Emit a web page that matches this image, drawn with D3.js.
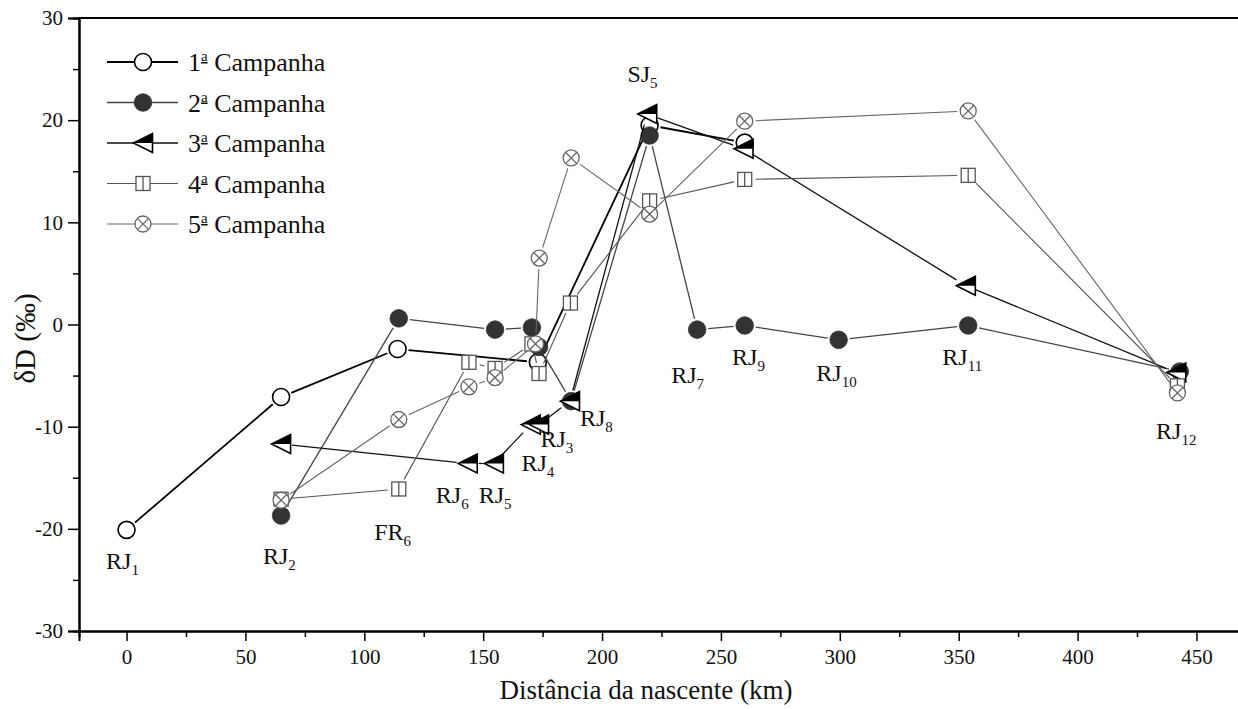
<!DOCTYPE html>
<html>
<head>
<meta charset="utf-8">
<script src="https://cdn.jsdelivr.net/npm/d3@7"></script>
<style>
  body { margin: 0; background: #fff; }
  text { font-family: "Liberation Serif", "Times New Roman", serif; fill: #111; }
</style>
</head>
<body>
<div class="canvas"></div>
<script>
// data (distance km, deltaD permil)
const dist1 = [0, 65, 114, 173, 220, 260];
const camp1 = [-20.1, -7.1, -2.4, -3.7, 19.5, 17.8];

const dist2 = [65, 114.5, 155, 170.5, 173.5, 187, 220, 240, 260, 299.5, 354, 443];
const camp2 = [-18.7, 0.6, -0.5, -0.3, -2.2, -7.5, 18.5, -0.5, -0.1, -1.5, -0.1, -4.6];

const dist3 = [65, 143.5, 154.5, 170, 173.5, 186.5, 219, 259.5, 353, 441.5];
const camp3 = [-11.7, -13.6, -13.6, -9.8, -9.8, -7.5, 20.6, 17.2, 3.8, -4.7];

const dist4 = [65, 114.5, 144, 155, 170.5, 173.5, 186.7, 220, 260, 354, 442];
const camp4 = [-17.1, -16.1, -3.7, -4.3, -1.9, -4.8, 2.1, 12.1, 14.2, 14.6, -6.0];

const dist5 = [65, 114.5, 144, 155, 172, 173.6, 187, 220, 260, 354, 442];
const camp5 = [-17.2, -9.3, -6.1, -5.2, -1.9, 6.5, 16.3, 10.8, 19.9, 20.9, -6.7];

const seriesNum = ['1', '2', '3', '4', '5'];
const seriesWord = 'Campanha';

// station labels: name, subscript, anchor km, anchor deltaD
const stationNames = ['RJ', 'RJ', 'FR', 'RJ', 'RJ', 'RJ', 'RJ', 'RJ', 'SJ', 'RJ', 'RJ', 'RJ', 'RJ', 'RJ'];
const stationSubs  = ['1', '2', '6', '6', '5', '4', '3', '8', '5', '7', '9', '10', '11', '12'];
const stationKm    = [-1.7, 64.3, 111.9, 137, 155, 173, 181, 197.6, 217, 236, 261.6, 298.6, 351.5, 441.5];
const stationDD    = [-23.9, -23.4, -21.1, -17.5, -17.5, -14.3, -12.0, -9.9, 23.7, -5.7, -4.0, -5.5, -4.0, -11.2];

const xTicks = [0, 50, 100, 150, 200, 250, 300, 350, 400, 450];
const yTicks = [-30, -20, -10, 0, 10, 20, 30];

const W = 1238, H = 709;
const margin = {top: 18, left: 79, bottom: 78, right: -6};

const svg = d3.select('.canvas')
  .append('svg')
    .attr('width', W)
    .attr('height', H);

const x = d3.scaleLinear().domain([-20, 470]).range([margin.left, W - margin.right]);
const y = d3.scaleLinear().domain([-30, 30]).range([H - margin.bottom, margin.top]);

// axes (plain hyphen for negatives, as in the original)
const fmt = (d) => String(d);
const xAxis = d3.axisBottom(x).tickValues(xTicks).tickSize(10).tickPadding(8).tickFormat(fmt);
const xMinor = d3.axisBottom(x).tickValues(d3.range(25, 470, 50)).tickSize(6).tickFormat('');
const yAxis = d3.axisLeft(y).tickValues(yTicks).tickSize(11).tickPadding(5).tickFormat(fmt);
const yMinor = d3.axisLeft(y).tickValues(d3.range(-25, 30, 10)).tickSize(6).tickFormat('');

svg.append('g').attr('transform', `translate(0, ${y(-30)})`).call(xAxis);
svg.append('g').attr('transform', `translate(0, ${y(-30)})`).call(xMinor);
svg.append('g').attr('transform', `translate(${x(-20)}, 0)`).call(yAxis);
svg.append('g').attr('transform', `translate(${x(-20)}, 0)`).call(yMinor);
// top frame line
svg.append('line')
  .attr('x1', x(-20)).attr('x2', x(470))
  .attr('y1', y(30)).attr('y2', y(30))
  .attr('stroke', '#000').attr('stroke-width', 2);

svg.selectAll('.domain').attr('stroke', '#000').attr('stroke-width', 2);
svg.selectAll('.tick line').attr('stroke', '#000').attr('stroke-width', 1.5);
svg.selectAll('.tick text').style('font-size', '21px').style('font-family', '"Liberation Serif", serif').attr('fill', '#222');

svg.append('text')
  .attr('x', 646).attr('y', 699)
  .attr('text-anchor', 'middle')
  .style('font-size', '27px')
  .text('Distância da nascente (km)');

svg.append('text')
  .attr('transform', `translate(35, ${y(0) + 14}) rotate(-90)`)
  .attr('text-anchor', 'middle')
  .style('font-size', '29px')
  .text('δD (‰)');

// marker drawing
function marker(g, type) {
  if (type === 'open') {
    g.append('circle').attr('r', 8.5).attr('fill', '#fff').attr('stroke', '#000').attr('stroke-width', 1.6);
  } else if (type === 'fill') {
    g.append('circle').attr('r', 8.8).attr('fill', '#333').attr('stroke', '#333').attr('stroke-width', 0.8);
  } else if (type === 'tri') {
    g.append('path').attr('d', 'M-9.5,0L9.5,-9.5L9.5,9.5Z').attr('fill', '#fff').attr('stroke', '#000').attr('stroke-width', 1.6);
    g.append('path').attr('d', 'M-9.5,0L9.5,-9.5L9.5,0Z').attr('fill', '#000');
  } else if (type === 'sq') {
    g.append('rect').attr('x', -7).attr('y', -7).attr('width', 14).attr('height', 14)
      .attr('fill', '#fff').attr('stroke', '#555').attr('stroke-width', 1.3);
    g.append('line').attr('x1', 0).attr('x2', 0).attr('y1', -7).attr('y2', 7).attr('stroke', '#555').attr('stroke-width', 1.3);
  } else if (type === 'cx') {
    g.append('circle').attr('r', 8).attr('fill', '#fff').attr('stroke', '#666').attr('stroke-width', 1.3);
    const k = 8 * Math.SQRT1_2;
    g.append('path').attr('d', `M${-k},${-k}L${k},${k}M${-k},${k}L${k},${-k}`).attr('stroke', '#666').attr('stroke-width', 1.3);
  }
}

const series = [
  {d: dist1, v: camp1, type: 'open', color: '#000', w: 1.8},
  {d: dist2, v: camp2, type: 'fill', color: '#444', w: 1.3},
  {d: dist3, v: camp3, type: 'tri', color: '#111', w: 1.3},
  {d: dist4, v: camp4, type: 'sq', color: '#555', w: 1.1},
  {d: dist5, v: camp5, type: 'cx', color: '#666', w: 1.1}
];

const gap = 11;
series.forEach((s) => {
  const pts = s.d.map((d, i) => [x(d), y(s.v[i])]);
  const g = svg.append('g');
  // line segments with a small gap at each symbol
  for (let i = 0; i < pts.length - 1; i++) {
    const [x0, y0] = pts[i], [x1, y1] = pts[i + 1];
    const len = Math.hypot(x1 - x0, y1 - y0);
    if (len <= 2 * gap) continue;
    const ux = (x1 - x0) / len, uy = (y1 - y0) / len;
    g.append('line')
      .attr('x1', x0 + ux * gap).attr('y1', y0 + uy * gap)
      .attr('x2', x1 - ux * gap).attr('y2', y1 - uy * gap)
      .attr('stroke', s.color).attr('stroke-width', s.w);
  }
  pts.forEach((p) => {
    const m = g.append('g').attr('transform', `translate(${p[0]}, ${p[1]})`);
    marker(m, s.type);
  });
});

// station labels
stationNames.forEach((n, i) => {
  const t = svg.append('text')
    .attr('x', x(stationKm[i])).attr('y', y(stationDD[i]))
    .attr('text-anchor', 'middle')
    .style('font-size', '24px');
  t.append('tspan').text(n);
  t.append('tspan').attr('dy', 6).style('font-size', '15px').text(stationSubs[i]);
});

// legend
const legend = svg.append('g');
seriesNum.forEach((num, i) => {
  const ly = 62 + i * 40.5;
  const s = series[i];
  legend.append('line')
    .attr('x1', 107).attr('x2', 178).attr('y1', ly).attr('y2', ly)
    .attr('stroke', s.color).attr('stroke-width', s.w);
  const m = legend.append('g').attr('transform', `translate(143, ${ly})`);
  marker(m, s.type);
  const t = legend.append('text')
    .attr('x', 188).attr('y', ly + 9)
    .style('font-size', '26px');
  t.append('tspan').text(num);
  // underlined superscript ordinal "a"
  t.append('tspan').attr('dy', -10).style('font-size', '15px')
    .style('text-decoration', 'underline').text('a');
  t.append('tspan').attr('dy', 10).text(' ' + seriesWord);
});
</script>
</body>
</html>
